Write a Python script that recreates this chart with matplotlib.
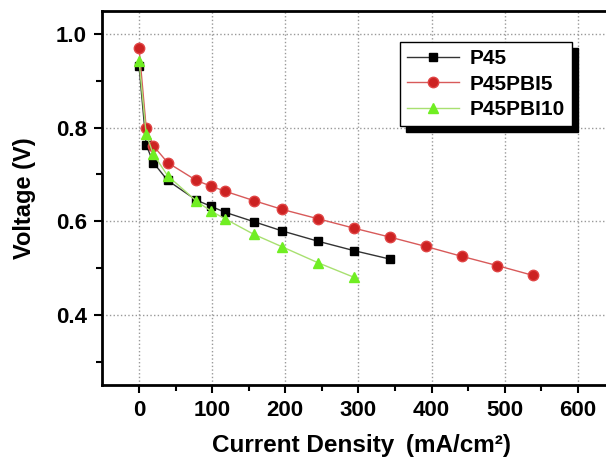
import matplotlib as mpl
from matplotlib import pyplot as plt

# current density (mA/cm2) and cell voltage (V)
x_p45 = [0, 9.8, 19.6, 39.2, 78.4, 98, 117.6, 156.8, 196, 245, 294, 343]
v_p45 = [0.932, 0.763, 0.725, 0.687, 0.645, 0.632, 0.619, 0.599, 0.579, 0.557, 0.537, 0.519]

x_pbi5 = [0, 9.8, 19.6, 39.2, 78.4, 98, 117.6, 156.8, 196, 245, 294, 343,
          392, 441, 490, 539]
v_pbi5 = [0.971, 0.800, 0.761, 0.725, 0.687, 0.675, 0.664, 0.644, 0.625, 0.605,
          0.585, 0.566, 0.546, 0.525, 0.505, 0.484]

x_pbi10 = [0, 9.8, 19.6, 39.2, 78.4, 98, 117.6, 156.8, 196, 245, 294]
v_pbi10 = [0.943, 0.786, 0.743, 0.697, 0.643, 0.622, 0.605, 0.572, 0.545, 0.511, 0.480]

mpl.rcParams['font.family'] = 'Liberation Sans'
mpl.rcParams['font.weight'] = 'bold'
mpl.rcParams['axes.labelweight'] = 'bold'
mpl.rcParams['font.size'] = 16

fig = plt.figure(figsize=(6.06, 4.62), dpi=100)
# right edge of the frame is cut off in the original
ax = fig.add_axes([0.1683, 0.1667, 0.918, 0.8095])

ax.plot(x_p45, v_p45, "-s", color="#333333", lw=1.0, ms=6,
        mfc="black", mec="black", label="P45", zorder=3)
ax.plot(x_pbi5, v_pbi5, "-o", color="#d85a5a", lw=1.0, ms=7.5,
        mfc="#cc2222", mec="#e04444", label="P45PBI5", zorder=3)
ax.plot(x_pbi10, v_pbi10, "-^", color="#a8e070", lw=1.0, ms=7,
        mfc="#70ee22", mec="#70ee22", label="P45PBI10", zorder=3)

ax.set_xlim(-50.6, 710)
ax.set_ylim(0.25, 1.049)
ax.set_xticks([0, 100, 200, 300, 400, 500, 600, 700])
ax.set_xticklabels(["0", "100", "200", "300", "400", "500", "600", ""])
ax.set_xticks(range(50, 700, 100), minor=True)
ax.set_yticks([0.4, 0.6, 0.8, 1.0])
ax.set_yticks([0.3, 0.5, 0.7, 0.9], minor=True)
ax.tick_params(which="both", direction="out", width=1.5, labelsize=16)
ax.tick_params(which="major", length=6, pad=5)
ax.tick_params(which="minor", length=4)
for s in ax.spines.values():
    s.set_linewidth(2)

ax.grid(True, which="major", color="#999999", linestyle=":", linewidth=1)

ax.set_xlabel("Current Density \u2009(mA/cm\u00b2)", fontsize=17.5, labelpad=9)
ax.xaxis.label.set_x(0.466)
ax.set_ylabel("Voltage (V)", fontsize=17, labelpad=14)

leg = ax.legend(loc="upper left", bbox_to_anchor=(298 / 556.3, 0.917),
                borderaxespad=0,
                shadow={"ox": 4, "oy": -4, "color": "black", "alpha": 1},
                fancybox=False, edgecolor="black", framealpha=1,
                handlelength=2.5, handletextpad=0.5, fontsize=15,
                borderpad=0.35, labelspacing=0.3)
leg.get_frame().set_linewidth(1)

plt.savefig("out.png", dpi=100)
